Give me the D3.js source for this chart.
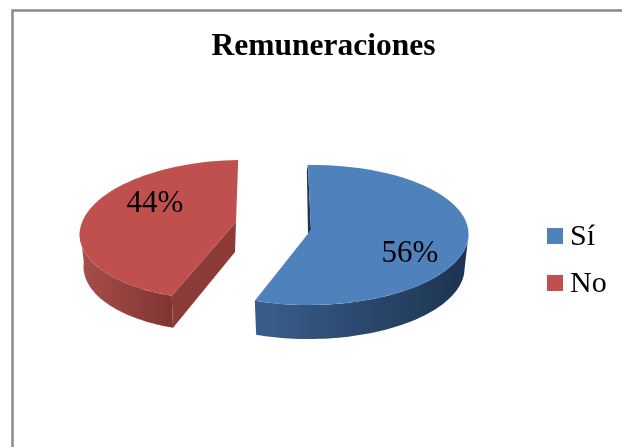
<!DOCTYPE html>
<html>
<head>
<meta charset="utf-8">
<script src="https://cdn.jsdelivr.net/npm/d3@7"></script>
<style>
  html, body { margin: 0; padding: 0; background: #fff; }
  text { font-family: "Liberation Serif", serif; fill: #000; }
</style>
</head>
<body>
<div id="chart"></div>
<script>
const categories = ["Sí", "No"];
const percents = [56, 44];
const sliceColors = ["#4f81bd", "#c0504d"];
const chartTitle = "Remuneraciones";

const svg = d3.select("#chart").append("svg")
    .attr("width", 622)
    .attr("height", 447)
    .style("display", "block");

const defs = svg.append("defs");
defs.append("filter").attr("id", "soft")
    .append("feGaussianBlur").attr("stdDeviation", 0.45);

function wallGradient(id, from, to) {
    const g = defs.append("linearGradient").attr("id", id);
    g.append("stop").attr("offset", "0%").attr("stop-color", from);
    g.append("stop").attr("offset", "100%").attr("stop-color", to);
}
wallGradient("wall-0", "#3a5e8c", "#1c3350");
wallGradient("wall-1", "#a84e4b", "#7f3431");

// frame, only top and left are in the crop
svg.append("path")
    .attr("d", "M12.5,447V10.5H622")
    .attr("fill", "none")
    .attr("stroke", "#8a8a8a")
    .attr("stroke-width", 2.5);

svg.append("text")
    .attr("x", 323.5)
    .attr("y", 55)
    .attr("text-anchor", "middle")
    .attr("font-size", 31.5)
    .attr("font-weight", "bold")
    .attr("filter", "url(#soft)")
    .text(chartTitle);

// slice layout: per slice placement of the exploded 3D pie
const pie = d3.pie().sort(null)
    .startAngle(-0.03)
    .endAngle(-0.03 + 2 * Math.PI);
const slices = pie(percents);

// shear fakes the perspective of the original 3D view
const placement = [
    { cx: 310.5, cy: 235, rx: 158, depth: 34, shear: 0.03, apexX: 311, apexY: 230, labelX: 410, labelY: 262 },
    { cx: 233, cy: 230, rx: 153, depth: 32, shear: 0.14, apexX: 236, apexY: 222, labelX: 155, labelY: 212 }
];
const ry = 70;

function rim(p, angle, drop, shrink) {
    const dy = -ry * Math.cos(angle);
    return [
        p.cx + p.rx * shrink * Math.sin(angle) - p.shear * dy,
        p.cy + dy + drop
    ];
}

function arcPoints(p, a0, a1, drop, shrink) {
    return d3.range(0, 61).map(i => rim(p, a0 + (a1 - a0) * i / 60, drop, shrink));
}

const line = d3.line();

slices.forEach((s, i) => {
    const p = placement[i];
    const g = svg.append("g");

    // outer wall, only the part of the rim that faces the viewer
    const w0 = Math.max(s.startAngle, Math.PI / 2);
    const w1 = Math.min(s.endAngle, 3 * Math.PI / 2);
    if (w1 > w0) {
        const wall = arcPoints(p, w0, w1, 0, 1)
            .concat(arcPoints(p, w1, w0, p.depth, 0.975));
        g.append("path")
            .attr("d", line(wall) + "Z")
            .attr("fill", `url(#wall-${i})`);
    }

    // cut wall of the red slice, faces lower right
    if (i === 1) {
        const front = rim(p, s.startAngle, 0, 1);
        const frontLow = rim(p, s.startAngle, p.depth, 0.975);
        g.append("path")
            .attr("d", line([[p.apexX, p.apexY], front, frontLow, [p.apexX - 1, p.apexY + 30]]) + "Z")
            .attr("fill", "#8d3b38");
    }

    // thin dark sliver on the back cut of the blue slice
    if (i === 0) {
        const back = rim(p, s.startAngle, 0, 1);
        g.append("path")
            .attr("d", line([back, [p.apexX, p.apexY], [p.apexX - 3, p.apexY + 4], [back[0] - 1, back[1] + 6]]) + "Z")
            .attr("fill", "#1f3552");
    }

    // top face
    const top = [[p.apexX, p.apexY]].concat(arcPoints(p, s.startAngle, s.endAngle, 0, 1));
    g.append("path")
        .attr("d", line(top) + "Z")
        .attr("fill", sliceColors[i]);

    g.append("text")
        .attr("x", p.labelX)
        .attr("y", p.labelY)
        .attr("text-anchor", "middle")
        .attr("font-size", 31)
        .attr("filter", "url(#soft)")
        .text(percents[i] + "%");
});

// legend
const legendY = d3.scalePoint().domain(categories).range([236, 283]);
const legend = svg.selectAll(".legend")
    .data(categories)
    .enter().append("g")
    .attr("class", "legend")
    .attr("transform", d => `translate(547,${legendY(d)})`);

legend.append("rect")
    .attr("width", 16)
    .attr("height", 16)
    .attr("y", -8)
    .attr("fill", (d, i) => sliceColors[i]);

legend.append("text")
    .attr("x", 23)
    .attr("y", 9)
    .attr("font-size", 30)
    .attr("filter", "url(#soft)")
    .text(d => d);
</script>
</body>
</html>
